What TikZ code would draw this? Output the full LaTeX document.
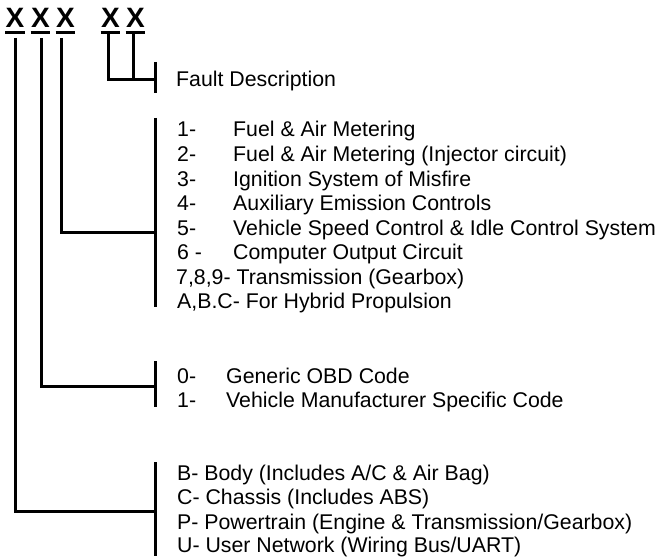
\documentclass[tikz,border=0pt]{standalone}
\usepackage{fontspec}
\setmainfont{Liberation Sans}
\usetikzlibrary{calc}

\begin{document}
\begin{tikzpicture}[
    x=1pt, y=-1pt,
    font=\fontsize{21.3}{25}\selectfont,
    code/.style={font=\fontsize{28}{32}\selectfont\bfseries, inner sep=0pt, anchor=base},
    uline/.style={line width=3pt},
    wire/.style={line width=3pt},
    bar/.style={line width=3pt},
    item/.style={inner sep=0pt, anchor=base west}
  ]
    \useasboundingbox (0,0) rectangle (660,556);
    \node[code] (x1) at (15,28) {X};
    \node[code] (x2) at (40.5,28) {X};
    \node[code] (x3) at (65.5,28) {X};
    \node[code] (x4) at (110.5,28) {X};
    \node[code] (x5) at (135.5,28) {X};
    \foreach \c in {x1,x2,x3,x4,x5}
      \draw[uline] ([xshift=-0.3pt,yshift=-4.5pt]\c.base west) -- ([xshift=0.3pt,yshift=-4.5pt]\c.base east);
    \coordinate (fdtop) at (155,62);
    \coordinate (fdbot) at (155,93);
    \coordinate (fdin) at (155,80);
    \coordinate (systop) at (155,118);
    \coordinate (sysbot) at (155,307);
    \coordinate (sysin) at (155,232);
    \coordinate (typtop) at (155,361);
    \coordinate (typbot) at (155,407);
    \coordinate (typin) at (155,386);
    \coordinate (cattop) at (155,462);
    \coordinate (catbot) at (155,556);
    \coordinate (catin) at (155,511);
    \draw[bar] (fdtop) -- (fdbot);
    \draw[bar] (systop) -- (sysbot);
    \draw[bar] (typtop) -- (typbot);
    \draw[bar] (cattop) -- (catbot);
    \draw[wire] ($(x1.base)+(0,10)$) |- (catin);
    \draw[wire] ($(x2.base)+(1.2,10)$) |- (typin);
    \draw[wire] ($(x3.base)+(-3.8,10)$) |- (sysin);
    \draw[wire] ($(x4.base)+(-2.2,4.5)$) |- (fdin);
    \draw[wire] ($(x5.base)+(-2.2,4.5)$) coordinate (x5start) -- (x5start |- fdin);
    \node[item] (fd) at (176,87) {Fault Description};
    \node[item] (n1) at (177,137) {1-};
    \node[item] (d1) at (233,137) {Fuel \& Air Metering};
    \node[item] (n2) at (177,161.5) {2-};
    \node[item] (d2) at (233,161.5) {Fuel \& Air Metering (Injector circuit)};
    \node[item] (n3) at (177,186) {3-};
    \node[item] (d3) at (233,186) {Ignition System of Misfire};
    \node[item] (n4) at (177,210.5) {4-};
    \node[item] (d4) at (233,210.5) {Auxiliary Emission Controls};
    \node[item] (n5) at (177,235) {5-};
    \node[item] (d5) at (233,235) {Vehicle Speed Control \& Idle Control System};
    \node[item] (n6) at (177,259.5) {6 -};
    \node[item] (d6) at (233,259.5) {Computer Output Circuit};
    \node[item] (n7) at (176,284) {7,8,9- Transmission (Gearbox)};
    \node[item] (n8) at (177,308.5) {A,B.C- For Hybrid Propulsion};
    \node[item] (t0) at (177,383) {0-};
    \node[item] (g0) at (226,383) {Generic OBD Code};
    \node[item] (t1) at (177,407) {1-};
    \node[item] (g1) at (226,407) {Vehicle Manufacturer Specific Code};
    \node[item] (cb) at (177,480) {B- Body (Includes A/C \& Air Bag)};
    \node[item] (cc) at (177,504.5) {C- Chassis (Includes ABS)};
    \node[item] (cp) at (177,529) {P- Powertrain (Engine \& Transmission/Gearbox)};
    \node[item] (cu) at (177,552) {U- User Network (Wiring Bus/UART)};
  \end{tikzpicture}
\end{document}
